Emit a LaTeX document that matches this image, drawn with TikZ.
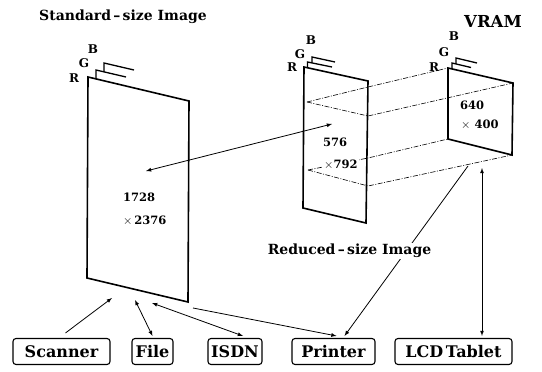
\documentclass[tikz,border=0pt]{standalone}
\usepackage{amsmath}
\usepackage{fontspec}
\setmainfont{DejaVu Serif}
\usepackage{xcolor}
\usepackage{tikz}

\tikzset{
  page/.style={line width=1.6pt, line join=miter},
  layer/.style={line width=1.3pt},
  guide/.style={line width=0.6pt, dash pattern=on 5pt off 1.5pt on 1pt off 1.5pt},
  link/.style={line width=0.8pt, >=latex},
  dev/.style={draw, line width=1.1pt, rounded corners=3pt, minimum height=26pt, inner sep=0pt, font=\fontsize{16}{19}\selectfont\bfseries},
  caption/.style={font=\fontsize{14}{17}\selectfont\bfseries, inner sep=1pt},
  chan/.style={font=\fontsize{12}{14}\selectfont\bfseries, inner sep=0pt},
  dims/.style={font=\fontsize{11.5}{14}\selectfont\bfseries, inner sep=1pt, anchor=west, fill=white}
}

\begin{document}
\begin{tikzpicture}[x=1pt,y=-1pt]
\useasboundingbox (0,0) rectangle (542,372);

% standard-size image
\draw[page] (88,77) -- (189,101) -- (188,302) -- (87,278) -- cycle;
\draw[layer] (96,79) -- (96,70) -- (126,77);
\draw[layer] (104,72) -- (104,63) -- (134,70);
\node[chan] (stdR) at (74,78.5) {R};
\node[chan] (stdG) at (84,63) {G};
\node[chan] (stdB) at (93,49) {B};

% reduced-size image
\draw[page] (304,67) -- (368,81) -- (366,223) -- (303,208) -- cycle;
\draw[layer] (307.5,67.8) -- (307.5,62) -- (332,67);
\draw[layer] (312,63) -- (312,57) -- (335,62);
\node[chan] (redR) at (292,67.5) {R};
\node[chan] (redG) at (300,54) {G};
\node[chan] (redB) at (311,40) {B};

% vram
\draw[page] (448,68) -- (513,83) -- (512,155) -- (448,139) -- cycle;
\draw[layer] (452,69) -- (452,63) -- (471,67.5);
\draw[layer] (456,64) -- (456,58) -- (477,63);
\node[chan] (vrR) at (434,67) {R};
\node[chan] (vrG) at (444,52) {G};
\node[chan] (vrB) at (454,36) {B};

% window outline
\draw[guide] (307,102) -- (368,87) -- (448,68);
\draw[guide] (307,102) -- (368,116) -- (513,83);
\draw[guide] (308,170) -- (368,158) -- (448,139);
\draw[guide] (308,170) -- (368,186) -- (512,155);

% sizes
\node[dims] (stdW) at (122,197) {1728};
\node[dims] (stdH) at (122,221) {$\times$\,2376};
\node[dims] (redW) at (322,142) {576};
\node[dims] (redH) at (323,165) {$\times$792};
\node[dims] (vrW) at (459,105) {640};
\node[dims, fill=none] (vrH) at (460,125) {$\times$ 400};

% devices
\node[dev, minimum width=97pt] (scanner) at (61.5,351.5) {Scanner};
\node[dev, minimum width=41pt] (file) at (152.5,351.5) {File};
\node[dev, minimum width=54pt] (isdn) at (235,351.5) {ISDN};
\node[dev, minimum width=83pt] (printer) at (333.5,351.5) {Printer};
\node[dev, minimum width=117pt] (lcd) at (453.5,351.5) {LCD\,Tablet};

\coordinate (stdIn) at (146,171);
\coordinate (redIn) at (332,124);
\coordinate (stdS) at (112,298);
\coordinate (stdF) at (135,300);
\coordinate (stdI) at (152,303);
\coordinate (stdP) at (193,308);
\coordinate (vrP) at (468,166);
\coordinate (vrL) at (482,168);

\draw[link,<->] (stdIn) -- (redIn);
\draw[link,->] ([xshift=4pt,yshift=5pt]scanner.north) -- (stdS);
\draw[link,<->] (stdF) -- ([yshift=2pt]file.north);
\draw[link,<->] (stdI) -- ([xshift=8pt,yshift=2pt]isdn.north);
\draw[link,->] (stdP) -- ([xshift=3pt,yshift=2pt]printer.north);
\draw[link,->] (vrP) -- ([xshift=11pt,yshift=2pt]printer.north);
\draw[link,<->] (vrL) -- ([yshift=2pt]lcd.north -| vrL);

% captions
\node[caption] (stdCap) at (123,17) {Standard\,–\,size Image};
\node[caption, fill=white] (redCap) at (349.5,251) {Reduced\,–\,size Image};
\node[caption, font=\fontsize{16.5}{19}\selectfont\bfseries] (vrCap) at (493,21.5) {VRAM};
\end{tikzpicture}
\end{document}
